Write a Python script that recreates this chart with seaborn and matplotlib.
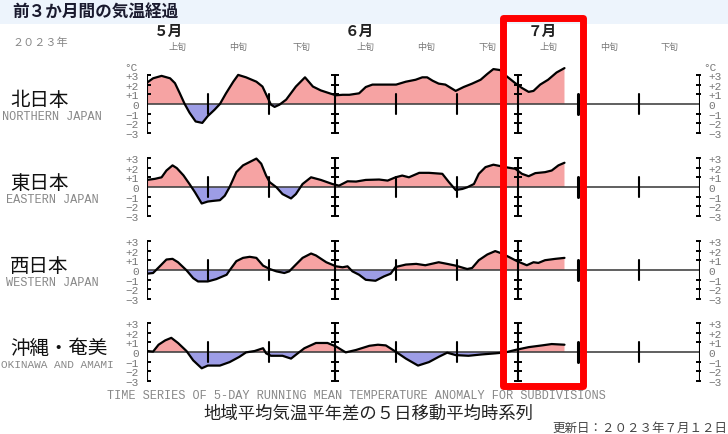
import matplotlib
matplotlib.use("Agg")
import matplotlib.pyplot as plt
import numpy as np
import seaborn as sns
from matplotlib.patches import Rectangle

sns.set_style("white")
plt.rcParams['font.family'] = ['Noto Sans CJK JP', 'DejaVu Sans']

W, H = 728, 435

# days counted from May 1 (day 0) ; anomaly in degC, 5-day running mean
north_days = [0, 1, 2.4, 3.8, 4.6, 5.4, 6.2, 7, 8, 9.1, 10, 11.1, 12, 13, 14.2, 15, 16.3, 18, 19, 19.9,
              20.4, 21, 21.8, 22.9, 24.5, 26, 27.3, 28.6, 30.3, 31.1, 32.2, 33.3, 34.9, 36, 37.1, 38.2,
              41, 42.6, 44.2, 45.3, 46.1, 47, 48, 49.1, 50.8, 52.1, 53.5, 54.9, 56, 57, 58.1, 59.2,
              60.6, 61.7, 62.8, 63.6, 64.7, 66, 67.4, 68.7]
north_vals = [2.2, 2.65, 2.9, 2.65, 2.15, 1.1, 0.0, -0.9, -1.8, -1.95, -1.25, -0.6, 0.0, 1.1, 2.3, 3.0,
              2.75, 2.3, 1.8, 0.6, -0.07, -0.3, -0.07, 0.45, 1.8, 2.75, 1.8, 1.4, 1.05, 0.9, 0.95, 0.95,
              1.1, 1.75, 2.0, 2.0, 2.0, 2.3, 2.5, 2.75, 2.75, 2.4, 2.1, 2.0, 1.35, 1.75, 2.1, 2.5, 3.1,
              3.6, 3.5, 2.85, 2.15, 1.65, 1.25, 1.35, 2.0, 2.5, 3.25, 3.7]

east_days = [0, 1.3, 2.4, 3.2, 4.2, 4.9, 6, 7, 7.9, 9, 10, 10.9, 12, 12.8, 13.6, 14.7, 15.8, 16.9, 18,
             18.8, 19.6, 20.2, 21.3, 22.3, 23.7, 24.5, 25.6, 27, 28.6, 30.5, 31.6, 33, 34.4, 36, 38.2,
             39.6, 40.9, 42, 43.1, 44.8, 46.4, 48.6, 49.7, 50.8, 51.9, 52.7, 53.8, 54.6, 55.7, 57,
             58.1, 59.5, 60.6, 61.7, 62.8, 63.9, 65.5, 66.6, 67.7, 68.7]
east_vals = [0.73, 0.84, 1.0, 1.7, 2.23, 1.95, 1.2, 0.3, -0.55, -1.7, -1.5, -1.43, -1.36, -0.9, 0.0,
             1.53, 2.23, 2.58, 2.93, 2.4, 1.18, 0.49, -0.03, -0.73, -1.18, -0.73, 0.31, 1.0, 0.73,
             0.31, 0.14, 0.59, 0.56, 0.73, 0.77, 0.66, 1.0, 1.18, 1.0, 1.46, 1.46, 1.36, 0.49, -0.31,
             -0.2, -0.03, 0.31, 1.36, 2.05, 2.3, 2.16, 1.99, 1.88, 1.36, 1.11, 1.43, 1.53, 1.7, 2.23, 2.5]

west_days = [0, 1, 2.1, 3.2, 4.2, 5.1, 6.5, 7.6, 8.4, 10, 11.4, 13.1, 13.6, 14.7, 15.8, 16.9, 18, 19.1,
             20.2, 21.3, 22.6, 23.4, 24.5, 25.6, 27, 27.8, 29.5, 31.1, 32.2, 33, 33.8, 34.9, 36, 37.6,
             39, 40.1, 40.9, 42.6, 44.3, 45.8, 48, 49.4, 50.8, 52.7, 53.5, 54.6, 56, 57.3, 58.4, 59.5,
             60.9, 62.5, 63.6, 64.4, 65.5, 67.2, 68.7]
west_vals = [-0.38, -0.31, 0.38, 1.08, 1.15, 0.8, -0.03, -0.84, -1.18, -1.18, -0.94, -0.49, -0.03, 0.91,
             1.25, 1.36, 1.25, 0.45, 0.1, -0.14, -0.31, -0.14, 0.56, 1.25, 1.7, 1.5, 0.8, 0.38, 0.28,
             0.38, -0.14, -0.49, -1.01, -1.11, -0.66, -0.38, 0.31, 0.56, 0.63, 0.49, 0.8, 0.63, 0.45,
             0.1, 0.21, 1.01, 1.6, 1.95, 1.7, 1.36, 0.91, 0.49, 0.8, 0.73, 1.01, 1.15, 1.25]

oki_days = [0, 1, 1.9, 3, 4, 5.1, 6.5, 7.6, 9, 10, 12, 13.6, 15.2, 16.3, 17.7, 19.1, 19.6, 20.4, 22.3,
            23.7, 24.8, 25.9, 27.8, 29.7, 31.1, 32.7, 34.4, 36.6, 38, 39.3, 40.9, 42.6, 44.6, 46.4, 48,
            49.4, 50.8, 52.9, 55.1, 57.3, 59, 60.6, 62.8, 65, 66.6, 68.7]
oki_vals = [0.1, 0.04, 0.75, 1.2, 1.46, 0.93, 0.1, -0.86, -1.68, -1.4, -1.4, -1.04, -0.5, -0.04, 0.1,
            0.39, -0.14, -0.39, -0.39, -0.68, -0.14, 0.39, 0.93, 0.93, 0.57, -0.04, 0.21, 0.64, 0.75,
            0.68, 0.04, -0.68, -1.4, -1.04, -0.5, -0.07, -0.32, -0.39, -0.25, -0.14, -0.04, 0.21, 0.5,
            0.68, 0.82, 0.75]

regions = ["北日本", "東日本", "西日本", "沖縄・奄美"]
regions_en = ["NORTHERN JAPAN", "EASTERN JAPAN", "WESTERN JAPAN", "OKINAWA AND AMAMI"]
series = [(north_days, north_vals), (east_days, east_vals),
          (west_days, west_vals), (oki_days, oki_vals)]

month_bounds = [0, 31, 61, 91]
dekad_bounds = [10, 20, 41, 51, 71, 81]
dekad_centers = [5, 15, 25.5, 36, 46, 56, 66, 76, 86]
dekad_names = ["上旬", "中旬", "下旬"] * 3
month_names = ["５月", "６月", "７月"]
month_pos = [3.5, 35, 65]
ylevels = [3, 2, 1, 0, -1, -2, -3]
ylabels = ["+3", "+2", "+1", "0", "−1", "−2", "−3"]

pos_color = "#f6a3a3"
neg_color = "#9d9de6"
mono = "Liberation Mono"

# pixel layout
x0_px, x1_px = 147, 700
zero_px = [105, 188, 271, 353]
deg_px = 9.7
ytop, ybot = 3.9, -3.8


def fx(x):
    return x / W


def fy(y):
    return 1 - y / H


fig = plt.figure(figsize=(W / 100, H / 100), dpi=100)
fig.patch.set_facecolor("white")

# title band
fig.add_artist(Rectangle((0, fy(25)), 1, 25 / H, transform=fig.transFigure,
                         facecolor="#edf4fc", edgecolor="none", zorder=0))
fig.text(fx(12), fy(13), "前３か月間の気温経過", fontsize=12, fontweight="bold",
         color="#1a1a2e", va="center", ha="left")

for i, (days, vals) in enumerate(series):
    z = zero_px[i]
    top = z - ytop * deg_px
    bot = z - ybot * deg_px
    ax = fig.add_axes([fx(x0_px), fy(bot), (x1_px - x0_px) / W, (bot - top) / H])
    ax.set_xlim(0, 91)
    ax.set_ylim(ybot, ytop)
    ax.patch.set_alpha(0)
    for s in ax.spines.values():
        s.set_visible(False)

    d = np.array(days)
    v = np.array(vals)
    ax.fill_between(d, v, 0, where=v >= 0, interpolate=True, color=pos_color, lw=0, zorder=1)
    ax.fill_between(d, v, 0, where=v <= 0, interpolate=True, color=neg_color, lw=0, zorder=1)
    ax.axhline(0, color="#444444", lw=1.2, zorder=2)
    sns.lineplot(x=d, y=v, ax=ax, color="black", lw=1.6, zorder=3, estimator=None, sort=False)

    # month axes with crossbars
    for m in month_bounds:
        ax.plot([m, m], [-3, 3], color="black", lw=1.5, zorder=4)
        ax.plot([m] * 6, [3, 2, 1, -1, -2, -3], ls="none", marker="_", ms=6, mew=1.4,
                color="black", zorder=4)
    # dekad ticks (Jul 11 drawn heavier)
    for k in dekad_bounds:
        ax.plot([k, k], [-1, 1], color="black", lw=2.2 if k == 71 else 1.5, zorder=4)

    ax.set_xticks([])
    ax.set_yticks(ylevels)
    ax.set_yticklabels(ylabels, fontfamily=mono, fontsize=8, color="#777777")
    ax.tick_params(axis="y", length=0, pad=6, labelleft=True, labelright=True)
    ax.set_ylabel("")

    # region labels
    fig.text(fx(10), fy(z - 4), regions[i], fontsize=14,
             color="#111111", va="center", ha="left")
    if i < 3:
        fig.text(fx(52), fy(z + 12), regions_en[i], fontsize=8.6, fontfamily=mono,
                 color="#888888", va="center", ha="center")
    else:
        fig.text(fx(1), fy(z + 12), regions_en[i], fontsize=8, fontfamily=mono,
                 color="#888888", va="center", ha="left")

# degree marks on top panel
fig.text(fx(131), fy(68), "°C", fontsize=8, fontfamily=mono, color="#777777", va="center", ha="center")
fig.text(fx(710), fy(68), "°C", fontsize=8, fontfamily=mono, color="#777777", va="center", ha="center")

# header labels
px_per_day = (x1_px - x0_px) / 91
fig.text(fx(12), fy(43), "２０２３年", fontsize=8, color="#888888", va="center", ha="left")
for name, p in zip(month_names, month_pos):
    fig.text(fx(x0_px + p * px_per_day), fy(31), name, fontsize=10.5, fontweight="bold",
             color="#222222", va="center", ha="center")
for name, p in zip(dekad_names, dekad_centers):
    fig.text(fx(x0_px + p * px_per_day), fy(47), name, fontsize=6.5, color="#777777",
             va="center", ha="center")

# footer
fig.text(fx(107), fy(396), "TIME SERIES OF 5-DAY RUNNING MEAN TEMPERATURE ANOMALY FOR SUBDIVISIONS",
         fontsize=8.6, fontfamily=mono, color="#888888", va="center", ha="left")
fig.text(fx(368), fy(414), "地域平均気温平年差の５日移動平均時系列", fontsize=12.5,
         color="#222222", va="center", ha="center")
fig.text(fx(727), fy(428), "更新日：２０２３年７月１２日", fontsize=9, color="#444444",
         va="center", ha="right")

# red highlight box
fig.add_artist(Rectangle((fx(502.5), fy(386.5)), 80 / W, 368 / H, transform=fig.transFigure,
                         facecolor="none", edgecolor="#ff0000", lw=5, joinstyle="round", zorder=10))

fig.savefig("out.png", dpi=100)
